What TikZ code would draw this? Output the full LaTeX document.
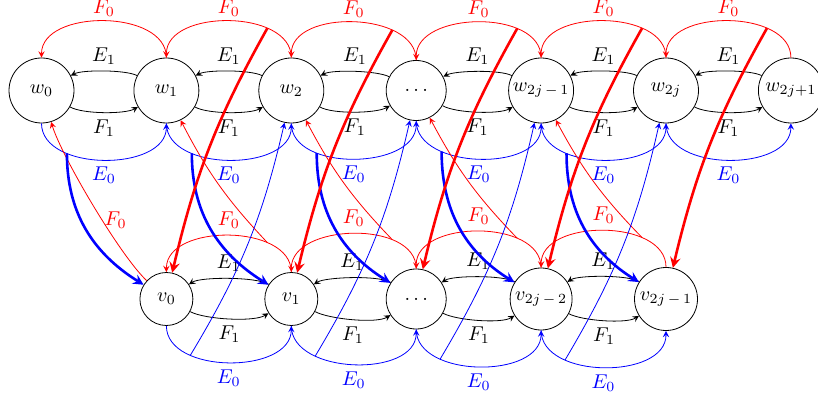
\documentclass[tikz,border=0pt]{standalone}
\usetikzlibrary{arrows}
\begin{document}
\begin{tikzpicture}[x=0.5pt,y=0.5pt,>=stealth,
  wn/.style={circle,draw,inner sep=0pt,minimum size=32.5pt},
  vn/.style={circle,draw,inner sep=0pt,minimum size=26.5pt},
  blk/.style={->,black},
  rthin/.style={->,red},
  bthin/.style={->,blue},
  rthick/.style={->,red,line width=1.3pt},
  bthick/.style={->,blue,line width=1.3pt},
  toplab/.style={above,inner sep=2pt}]
\useasboundingbox (0,0) rectangle (818,396);
% top row
\node[wn] (w0) at (41.5,305.5) {$w_0$};
\node[wn] (w1) at (166.4,305.5) {$w_1$};
\node[wn] (w2) at (291.3,305.5) {$w_2$};
\node[wn,minimum size=30pt] (w3) at (416.2,305.5) {$\ldots$};
\node[wn] (w4) at (541.1,305.5) {$w_{2j\mkern3mu-\mkern3mu1}$};
\node[wn] (w5) at (666.0,305.5) {$w_{2j}$};
\node[wn] (w6) at (790.9,305.5) {$w_{2j+1}$};
% bottom row
\node[vn] (v0) at (166.4,97) {$v_0$};
\node[vn] (v1) at (291.3,97) {$v_1$};
\node[vn,minimum size=30pt] (v2) at (416.2,97) {$\ldots$};
\node[vn,minimum size=31pt] (v3) at (541.1,97) {$v_{2j\mkern3mu-\mkern3mu2}$};
\node[vn,minimum size=31.5pt] (v4) at (666.0,97) {$v_{2j\mkern3mu-\mkern3mu1}$};
% top row edges
\foreach \i/\j in {0/1,1/2,2/3,3/4,4/5,5/6} {
  \draw[blk] (w\j) to[out=153,in=27,looseness=0.5] node[above]{$E_1$} (w\i);
  \draw[blk] (w\i) to[out=-30,in=-150,looseness=0.55] node[below]{$F_1$} (w\j);
  \draw[rthin] (w\j.north) to[out=90,in=90] coordinate[pos=0.28] (tf\j) node[toplab]{$F_0$} (w\i.north);
  \draw[bthin] (w\i.south) to[out=-90,in=-90] coordinate[pos=0.29] (te\i) node[below]{$E_0$} (w\j.south);
}
% bottom row edges
\foreach \i/\j in {0/1,1/2,2/3,3/4} {
  \draw[blk] (v\j) to[out=147,in=33,looseness=0.45] node[above]{$E_1$} (v\i);
  \draw[blk] (v\i) to[out=-28,in=-148,looseness=0.55] node[below]{$F_1$} (v\j);
  \draw[rthin] (v\j.north) to[out=90,in=90] coordinate[pos=0.28] (bf\j) node[above]{$F_0$} (v\i.north);
  \draw[bthin] (v\i.south) to[out=-90,in=-90] coordinate[pos=0.28] (be\i) node[below]{$E_0$} (v\j.south);
}
% thin red: bottom arcs to top nodes
\draw[rthin] (v0) to[out=137,in=-73,looseness=0.5] node[pos=0.42,right,inner sep=1pt]{$F_0$} (w0);
\foreach \j in {1,2,3,4} {
  \draw[rthin] (bf\j) to[bend left=8] (w\j);
}
% thin blue: bottom arcs to top nodes
\foreach \i/\k in {0/2,1/3,2/4,3/5} {
  \draw[bthin] (be\i) to[bend right=9] (w\k);
}
% thick blue: top arcs to bottom nodes
\foreach \i in {0,1,2,3,4} {
  \draw[bthick] (te\i) to[out=-90,in=148] (v\i);
}
% thick red: top arcs to bottom nodes
\foreach \i/\j in {0/2,1/3,2/4,3/5,4/6} {
  \draw[rthick] (tf\j) to[bend right=8] (v\i);
}
\end{tikzpicture}
\end{document}
